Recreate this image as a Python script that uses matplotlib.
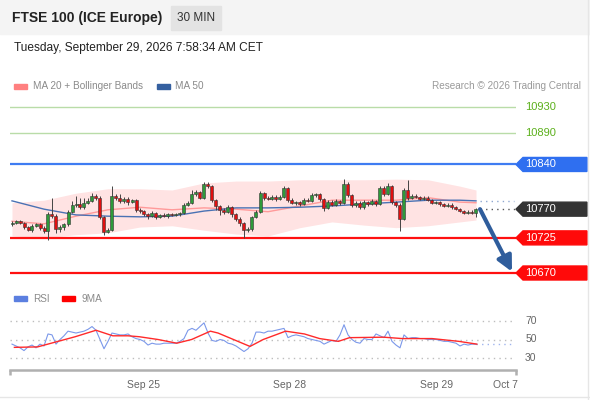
import matplotlib
matplotlib.use('Agg')
import matplotlib.pyplot as plt
from matplotlib.patches import Rectangle, Polygon
import numpy as np

plt.rcParams['font.family'] = ['Liberation Sans', 'DejaVu Sans']

W, H = 590, 400

# ---- price data (30 min candles) ----
first_open = 10746
closes = [10749, 10751, 10748, 10742, 10738, 10744, 10746, 10741, 10736, 10762,
          10759, 10739, 10742, 10746, 10766, 10777, 10778, 10773, 10780, 10783,
          10791, 10788, 10758, 10735, 10738, 10791, 10788, 10783, 10786, 10781,
          10784, 10769, 10767, 10762, 10759, 10764, 10758, 10761, 10759, 10762,
          10761, 10762, 10764, 10777, 10780, 10794, 10797, 10788, 10809, 10806,
          10784, 10775, 10769, 10766, 10773, 10762, 10755, 10748, 10738, 10739,
          10758, 10766, 10795, 10788, 10786, 10789, 10786, 10789, 10803, 10784,
          10780, 10781, 10778, 10784, 10783, 10792, 10793, 10786, 10772, 10781,
          10777, 10783, 10780, 10809, 10792, 10777, 10780, 10773, 10781, 10778,
          10783, 10778, 10803, 10794, 10806, 10781, 10777, 10755, 10800, 10788,
          10791, 10789, 10786, 10788, 10784, 10780, 10781, 10778, 10775, 10777,
          10773, 10770, 10767, 10764, 10766, 10764, 10770]
wick_up = [2, 2, 2, 2, 2, 2, 3, 2, 2, 3, 26, 3, 3, 3, 3, 5, 12, 10, 8, 4,
           5, 3, 2, 2, 3, 15, 3, 6, 3, 3, 2, 2, 3, 2, 2, 3, 2, 2, 3, 2,
           2, 2, 2, 3, 2, 6, 3, 2, 3, 4, 2, 2, 2, 3, 3, 2, 2, 2, 2, 3,
           2, 3, 3, 2, 3, 3, 3, 3, 4, 2, 3, 2, 2, 3, 3, 3, 2, 2, 2, 3,
           3, 3, 2, 8, 3, 2, 2, 3, 3, 2, 3, 2, 4, 3, 5, 2, 2, 2, 3, 16,
           2, 2, 2, 2, 2, 2, 2, 2, 2, 2, 2, 2, 2, 2, 2, 2, 2]
wick_dn = [2, 2, 2, 3, 2, 3, 2, 3, 3, 15, 3, 6, 4, 4, 2, 2, 3, 2, 3, 2,
           2, 3, 3, 5, 2, 2, 3, 3, 3, 5, 2, 3, 3, 3, 4, 2, 3, 2, 2, 3,
           2, 2, 3, 2, 2, 2, 3, 2, 2, 3, 3, 6, 8, 3, 2, 5, 3, 4, 13, 3,
           3, 2, 2, 3, 2, 2, 3, 2, 2, 3, 2, 3, 3, 2, 2, 2, 3, 3, 5, 2,
           2, 2, 3, 2, 3, 4, 3, 3, 2, 3, 2, 3, 2, 3, 2, 3, 3, 19, 2, 3,
           2, 2, 2, 2, 2, 2, 2, 3, 2, 2, 2, 2, 2, 2, 2, 2, 7]

# moving averages / bands, read every 8 candles
ma_idx = [0, 8, 16, 24, 32, 40, 48, 56, 64, 72, 80, 88, 96, 104, 112, 116]
ma50 = [10783, 10770, 10761, 10759, 10758, 10759, 10767, 10772, 10772, 10773,
        10775, 10778, 10781, 10784, 10784, 10783]
ma20 = [10751, 10747, 10759, 10769, 10773, 10769, 10772, 10770, 10766, 10775,
        10784, 10784, 10784, 10788, 10781, 10780]
bb_upper = [10780, 10784, 10795, 10802, 10802, 10800, 10811, 10814, 10814, 10816,
            10816, 10816, 10817, 10816, 10806, 10800]
bb_lower = [10728, 10725, 10730, 10733, 10742, 10744, 10737, 10731, 10728, 10741,
            10750, 10745, 10741, 10744, 10750, 10753]

# key levels
resist_green = [10930, 10890]
resist_blue = 10840
last_price = 10770
support_red = [10725, 10670]
target = 10670

# ---- RSI ----
rsi = [45, 43, 41, 38, 42, 44, 41, 45, 43, 56, 55, 45, 50, 54, 59, 58, 57, 58, 59, 61,
       64, 60, 50, 40, 48, 57, 56, 55, 55, 56, 53, 51, 50, 48, 44, 46, 45, 45, 46, 46,
       46, 46, 48, 51, 60, 62, 60, 64, 68, 57, 49, 48, 50, 49, 46, 45, 43, 40, 37, 40,
       46, 58, 58, 57, 59, 59, 60, 61, 62, 52, 54, 55, 54, 53, 51, 50, 49, 48, 45, 47,
       49, 48, 55, 66, 55, 50, 47, 46, 51, 50, 50, 56, 54, 52, 59, 48, 44, 41, 55, 51,
       52, 52, 51, 51, 50, 50, 50, 49, 48, 48, 47, 46, 43, 45, 44, 45, 45]
rsi_ma_idx = [0.6, 6.4, 15.8, 21, 25.2, 29, 31.8, 36.5, 41.2, 44.9, 49.6, 51.5,
              59.5, 62.8, 68.4, 73.1, 76.9, 81.6, 84.4, 92.9, 97.6, 105, 111.7, 116.2]
rsi_ma = [41.5, 42, 53, 60, 54, 54, 53, 50, 46, 50, 59, 57,
          42.5, 50, 59, 56, 51, 48, 52, 52.5, 51, 51, 48, 45]
rsi_levels = [70, 50, 30]

date_pos = [33, 69.5, 106.25, 123.25]
date_labels = ['Sep 25', 'Sep 28', 'Sep 29', 'Oct 7']


def fx(px):
    return px / W


def fy(py):
    return 1 - py / H


fig = plt.figure(figsize=(W / 100, H / 100), dpi=100)
fig.patch.set_facecolor('white')

# header band + borders
fig.patches.append(Rectangle((0, fy(34)), 1, 34 / H, transform=fig.transFigure,
                             color='#f4f4f4', zorder=0))
fig.patches.append(Rectangle((fx(171), fy(30)), fx(50), 24 / H,
                             transform=fig.transFigure, color='#e3e3e3', zorder=1))
fig.lines.append(plt.Line2D([fx(588), fx(588)], [0, 1], transform=fig.transFigure,
                            color='#e6e6e6', lw=1))
fig.lines.append(plt.Line2D([0, 1], [fy(397), fy(397)], transform=fig.transFigure,
                            color='#e6e6e6', lw=1))

fig.text(fx(12), fy(18), 'FTSE 100 (ICE Europe)', fontsize=10, fontweight='bold',
         color='#222222', va='center')
fig.text(fx(196), fy(18), '30 MIN', fontsize=8.5, color='#333333',
         va='center', ha='center')
fig.text(fx(14), fy(48), 'Tuesday, September 29, 2026 7:58:34 AM CET', fontsize=8.6,
         color='#222222', va='center')

# top legend
fig.patches.append(Rectangle((fx(14), fy(89)), fx(13), 5 / H,
                             transform=fig.transFigure, color='#ff8080'))
fig.text(fx(33), fy(86), 'MA 20 + Bollinger Bands', fontsize=7.2, color='#8a8a8a',
         va='center')
fig.patches.append(Rectangle((fx(157), fy(89)), fx(13), 5 / H,
                             transform=fig.transFigure, color='#3560a0'))
fig.text(fx(175), fy(86), 'MA 50', fontsize=7.2, color='#8a8a8a', va='center')
fig.text(fx(581), fy(86), 'Research \u00a9 2026 Trading Central', fontsize=7.2,
         color='#9a9a9a', va='center', ha='right')

# ---- price panel ----
px_per_pt = 166 / 260.0
ax = fig.add_axes([fx(10), fy(285), fx(506), 190 / H])
ax.set_xlim(-0.5, 126)
ax.set_ylim(10930 - 178 / px_per_pt, 10930 + 12 / px_per_pt)
ax.axis('off')

n = len(closes)
idx = np.arange(n)
c = np.array(closes, dtype=float)
o = np.array([first_open] + closes[:-1], dtype=float)
hi = np.maximum(o, c) + np.array(wick_up)
lo = np.minimum(o, c) - np.array(wick_dn)

ax.fill_between(ma_idx, bb_lower, bb_upper, color='#ffe3e3', lw=0, zorder=1)
ax.plot(ma_idx, ma20, color='#ff9a9a', lw=1, zorder=2)
ax.plot(ma_idx, ma50, color='#4a72b4', lw=1, zorder=2)

up = c >= o
ax.vlines(idx, lo, hi, color='#444444', lw=0.7, zorder=3)
body_h = np.where(np.abs(c - o) < 1, 1, np.abs(c - o))
ax.bar(idx, body_h, bottom=np.minimum(o, c), width=0.75,
       color=np.where(up, '#2e9a3a', '#e01010'), edgecolor='#333333', lw=0.4, zorder=4)

# level lines
for lv in resist_green:
    ax.axhline(lv, color='#b9dca8', lw=1, zorder=1)
    ax.text(1.018, lv, f'{lv}', transform=ax.get_yaxis_transform(), color='#5cb01c',
            fontsize=8, va='center', clip_on=False)
ax.axhline(resist_blue, color='#3f7cf2', lw=1.6, zorder=1)
for lv in support_red:
    ax.axhline(lv, color='#ff1010', lw=1.6, zorder=1)

# dotted projections from last candle
ax.hlines(ma50[-1], n, 125.5, color='#8fa8d0', lw=1, linestyles=(0, (1, 3)))
ax.hlines(last_price, n, 126, color='#555555', lw=1, linestyles=(0, (1, 3)))

# price tags
half = 7 / px_per_pt
tags = [(resist_blue, '#2f6ff0'), (last_price, '#333333')] + \
       [(lv, '#ff0a0a') for lv in support_red]
trans = ax.get_yaxis_transform()
for lv, col in tags:
    poly = Polygon([(1.0, lv), (1.0138, lv + half), (1.1403, lv + half),
                    (1.1403, lv - half), (1.0138, lv - half)], closed=True,
                   transform=trans, color=col, clip_on=False, zorder=5)
    ax.add_patch(poly)
    ax.text(1.0178, lv, f'{lv}', transform=trans, color='white', fontsize=8,
            va='center', clip_on=False, zorder=6)

# forecast arrow
ax.annotate('', xy=(n + 8, target + 2), xytext=(n, closes[-1]),
            arrowprops=dict(arrowstyle='-|>,head_width=0.45,head_length=0.9',
                            color='#2f5d9c', lw=3, shrinkA=0, shrinkB=0),
            zorder=6, annotation_clip=False)

# ---- RSI panel ----
rx = fig.add_axes([fx(10), fy(370), fx(506), 65 / H])
rx.set_xlim(-0.5, 126)
rx.set_ylim(30 - 12 / 0.925, 70 + 16 / 0.925)
for s in ['top', 'right', 'left']:
    rx.spines[s].set_visible(False)
rx.spines['bottom'].set_color('#b0b0b0')
rx.spines['bottom'].set_linewidth(1.8)
rx.set_yticks([])
rx.set_xticks(date_pos)
rx.set_xticklabels(date_labels, fontsize=7.5, color='#666666')
rx.tick_params(axis='x', length=0, pad=7)
for xe in (0, 1):
    rx.plot([xe, xe], [0, -0.07], transform=rx.transAxes, color='#b0b0b0',
            lw=1.8, clip_on=False, solid_capstyle='butt')

for lv in rsi_levels:
    rx.axhline(lv, color='#bdbdbd', lw=1, linestyle=(0, (1, 3)))
    rx.text(1.018, lv, f'{lv}', transform=rx.get_yaxis_transform(), color='#666666',
            fontsize=7.5, va='center', clip_on=False)

rx.plot(idx, rsi, color='#7b98ea', lw=0.8, zorder=3)
rx.plot(rsi_ma_idx, rsi_ma, color='#ff2a2a', lw=1, zorder=4)
rx.hlines(rsi[-1], n - 1, 125.5, color='#9fb4ee', lw=1, linestyles=(0, (1, 3)))

# RSI legend
fig.patches.append(Rectangle((fx(14), fy(301)), fx(13), 5 / H,
                             transform=fig.transFigure, color='#5b7fe0'))
fig.text(fx(33), fy(299), 'RSI', fontsize=7.2, color='#8a8a8a', va='center')
fig.patches.append(Rectangle((fx(62), fy(301)), fx(13), 5 / H,
                             transform=fig.transFigure, color='#ff0000'))
fig.text(fx(82), fy(299), '9MA', fontsize=7.2, color='#8a8a8a', va='center')

fig.savefig('out.png', dpi=100)
